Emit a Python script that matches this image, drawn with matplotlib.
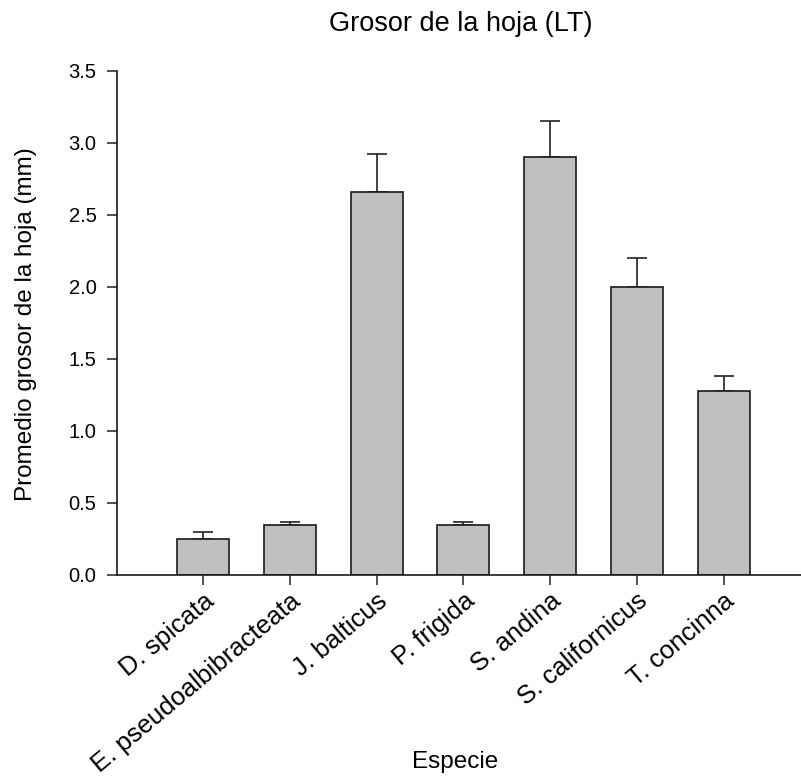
import matplotlib
matplotlib.use("Agg")
import matplotlib.pyplot as plt
import numpy as np

species = ["D. spicata", "E. pseudoalbibracteata", "J. balticus", "P. frigida",
           "S. andina", "S. californicus", "T. concinna"]
means = [0.25, 0.345, 2.66, 0.345, 2.90, 2.00, 1.28]
errors = [0.047, 0.023, 0.26, 0.023, 0.25, 0.20, 0.10]
yticks = [0.0, 0.5, 1.0, 1.5, 2.0, 2.5, 3.0, 3.5]

plt.rcParams['font.family'] = ['Liberation Sans', 'DejaVu Sans']

W, H = 801, 779
fig = plt.figure(figsize=(W / 100, H / 100), dpi=100)
# right edge is cut off in the original, so the axes run past the figure
ax = fig.add_axes([0.1456, 0.2619, 0.866, 0.647])

x = np.arange(1, len(species) + 1)
ax.bar(x, means, width=0.6, color='#c0c0c0', edgecolor='#1a1a1a', linewidth=1.2, zorder=2)
ax.errorbar(x, means, yerr=[np.zeros(len(errors)), errors], fmt='none',
            ecolor='#222222', elinewidth=1.2, capsize=7, capthick=1.2, zorder=1)

ax.set_xlim(0, 8)
ax.set_ylim(0, 3.5)
ax.set_yticks(yticks)
ax.set_yticklabels([f"{v:.1f}" for v in yticks], fontsize=14.5)
ax.set_xticks(x)
ax.set_xticklabels(species, rotation=40, ha='right', rotation_mode='anchor', fontsize=18.5)
ax.tick_params(direction='out', length=7, width=1.2, color='#333333')
ax.tick_params(axis='y', pad=7.5)
ax.tick_params(axis='x', pad=3)

for s in ['top', 'right']:
    ax.spines[s].set_visible(False)
for s in ['left', 'bottom']:
    ax.spines[s].set_linewidth(1.2)
    ax.spines[s].set_color('#1a1a1a')

fig.text(26.5 / W, 1 - 324 / H, "Promedio grosor de la hoja (mm)", fontsize=17.5,
         rotation=90, ha='center', va='center')
fig.text(455 / W, 1 - 768 / H, "Especie", fontsize=17.5, ha='center', va='baseline')
fig.text(460.5 / W, 1 - 31 / H, "Grosor de la hoja (LT)", fontsize=19.5,
         ha='center', va='baseline')

fig.savefig("out.png", dpi=100)
